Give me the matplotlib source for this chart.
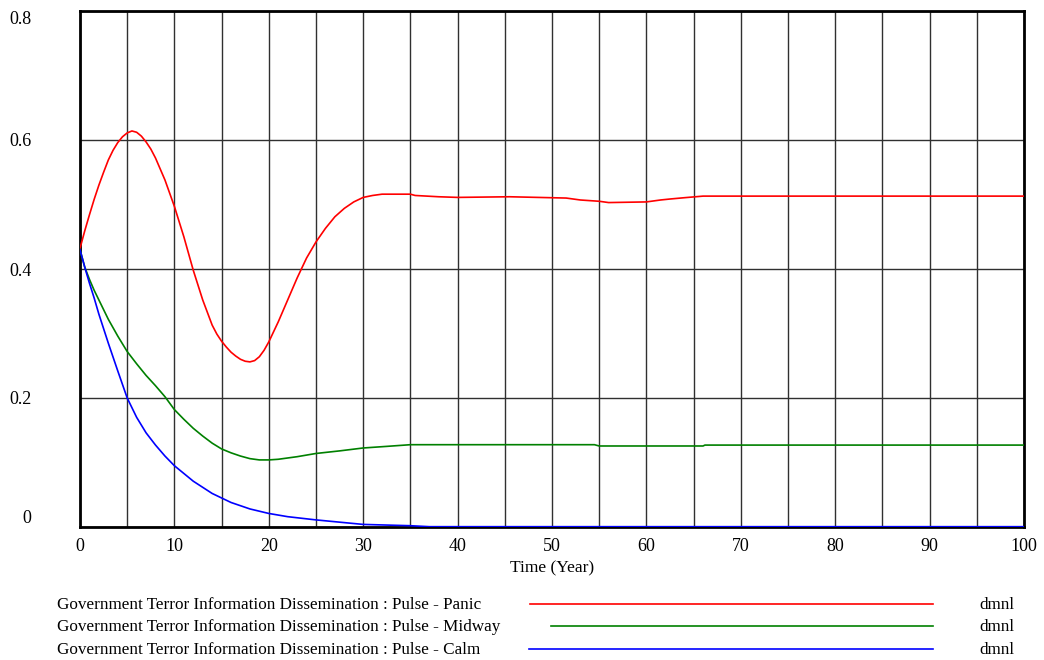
import matplotlib
matplotlib.use("Agg")
import matplotlib.pyplot as plt
from matplotlib.ticker import MultipleLocator

# ---- data ----
panic_t = [0, 0.5, 1, 1.5, 2, 2.5, 3, 3.5, 4, 4.5, 5, 5.5, 6, 6.5, 7, 7.5, 8, 9, 10, 11, 12,
           13, 14, 14.5, 15, 15.5, 16, 16.5, 17, 17.5, 18, 18.5, 19, 19.5, 20, 21, 22, 23, 24,
           25, 26, 27, 28, 29, 30, 31, 32, 35, 35.5, 38, 40, 45.5, 51.5, 53, 55, 56, 60, 61.5,
           62.5, 64, 66, 100]
panic_v = [0.432, 0.459, 0.484, 0.508, 0.530, 0.550, 0.569, 0.584, 0.596, 0.605, 0.611, 0.614,
           0.612, 0.606, 0.597, 0.586, 0.572, 0.538, 0.497, 0.450, 0.398, 0.352, 0.313, 0.299,
           0.288, 0.279, 0.271, 0.265, 0.260, 0.257, 0.256, 0.258, 0.264, 0.274, 0.287, 0.318,
           0.352, 0.386, 0.417, 0.442, 0.463, 0.481, 0.494, 0.504, 0.511, 0.514, 0.516, 0.516,
           0.514, 0.512, 0.511, 0.512, 0.510, 0.507, 0.505, 0.503, 0.504, 0.507, 0.5085, 0.5105,
           0.513, 0.513]

midway_t = [0, 0.5, 1, 1.5, 2, 3, 4, 5, 6, 7, 8, 9, 10, 11, 12, 13, 14, 15, 16, 17, 18, 19,
            20, 21, 22, 23, 25, 27.5, 30, 32.5, 35, 54.5, 55, 66, 66.2, 100]
midway_v = [0.430, 0.403, 0.384, 0.367, 0.352, 0.322, 0.296, 0.272, 0.253, 0.235, 0.219, 0.202,
            0.182, 0.167, 0.153, 0.141, 0.130, 0.121, 0.115, 0.110, 0.106, 0.104, 0.104, 0.105,
            0.107, 0.109, 0.114, 0.118, 0.1225, 0.125, 0.1276, 0.1276, 0.1256, 0.1256, 0.127,
            0.127]

calm_t = [0, 0.5, 1, 1.5, 2, 3, 4, 5, 6, 7, 8, 9, 10, 12, 14, 16, 18, 20, 22, 25, 30, 35,
          37, 100]
calm_v = [0.430, 0.403, 0.378, 0.355, 0.330, 0.285, 0.242, 0.200, 0.170, 0.146, 0.127, 0.110,
          0.095, 0.071, 0.052, 0.038, 0.028, 0.021, 0.016, 0.011, 0.004, 0.002, 0.0005, 0.0005]

series_names = ["Government Terror Information Dissemination : Pulse - Panic",
                "Government Terror Information Dissemination : Pulse - Midway",
                "Government Terror Information Dissemination : Pulse - Calm"]
series_units = ["dmnl", "dmnl", "dmnl"]
y_ticks = [0, 0.2, 0.4, 0.6, 0.8]
y_tick_labels = ["0", "0.2", "0.4", "0.6", "0.8"]
x_ticks = list(range(0, 101, 10))
x_label = "Time (Year)"

# ---- figure ----
W, H = 1044, 660
fig = plt.figure(figsize=(W / 100, H / 100), dpi=100)
plt.rcParams['font.family'] = ['Liberation Serif', 'DejaVu Serif']

def px(x, y):
    return x / W, 1 - y / H

ax = fig.add_axes([80 / W, (H - 527) / H, 944 / W, 516 / H])
colors = ["#ff0000", "#008000", "#0000ff"]
for t, v, c in zip([panic_t, midway_t, calm_t], [panic_v, midway_v, calm_v], colors):
    ax.plot(t, v, color=c, lw=1.2, zorder=3)

ax.set_xlim(0, 100)
ax.set_ylim(0, 0.8)
ax.set_xticks(x_ticks)
ax.xaxis.set_minor_locator(MultipleLocator(5))
ax.set_yticks(y_ticks)
ax.set_yticklabels(y_tick_labels)
ax.grid(True, which='both', color='#303030', lw=1.0, zorder=1)
ax.tick_params(axis='both', which='both', length=0, labelsize=13)
ax.tick_params(axis='y', pad=35)
ax.tick_params(axis='x', pad=8)
for lab in ax.get_yticklabels():
    lab.set_horizontalalignment('right')
ylabs = ax.get_yticklabels()
ylabs[0].set_verticalalignment('bottom')
ylabs[-1].set_verticalalignment('top')
for s in ax.spines.values():
    s.set_linewidth(2.0)
    s.set_color('black')
ax.set_xlabel(x_label, fontsize=12.5, labelpad=4)

# ---- legend (Vensim style) ----
leg_y = [604, 626, 649]
line_x0 = [530, 551, 529]
for name, unit, c, y, x0 in zip(series_names, series_units, colors, leg_y, line_x0):
    fig.text(*px(57, y + 1), name, fontsize=12.3, ha='left', va='center')
    fig.add_artist(plt.Line2D([x0 / W, 933 / W], [1 - y / H, 1 - y / H],
                              color=c, lw=1.2, transform=fig.transFigure))
    fig.text(*px(1015, y + 1), unit, fontsize=12.3, ha='right', va='center')

fig.savefig("out.png", dpi=100)
